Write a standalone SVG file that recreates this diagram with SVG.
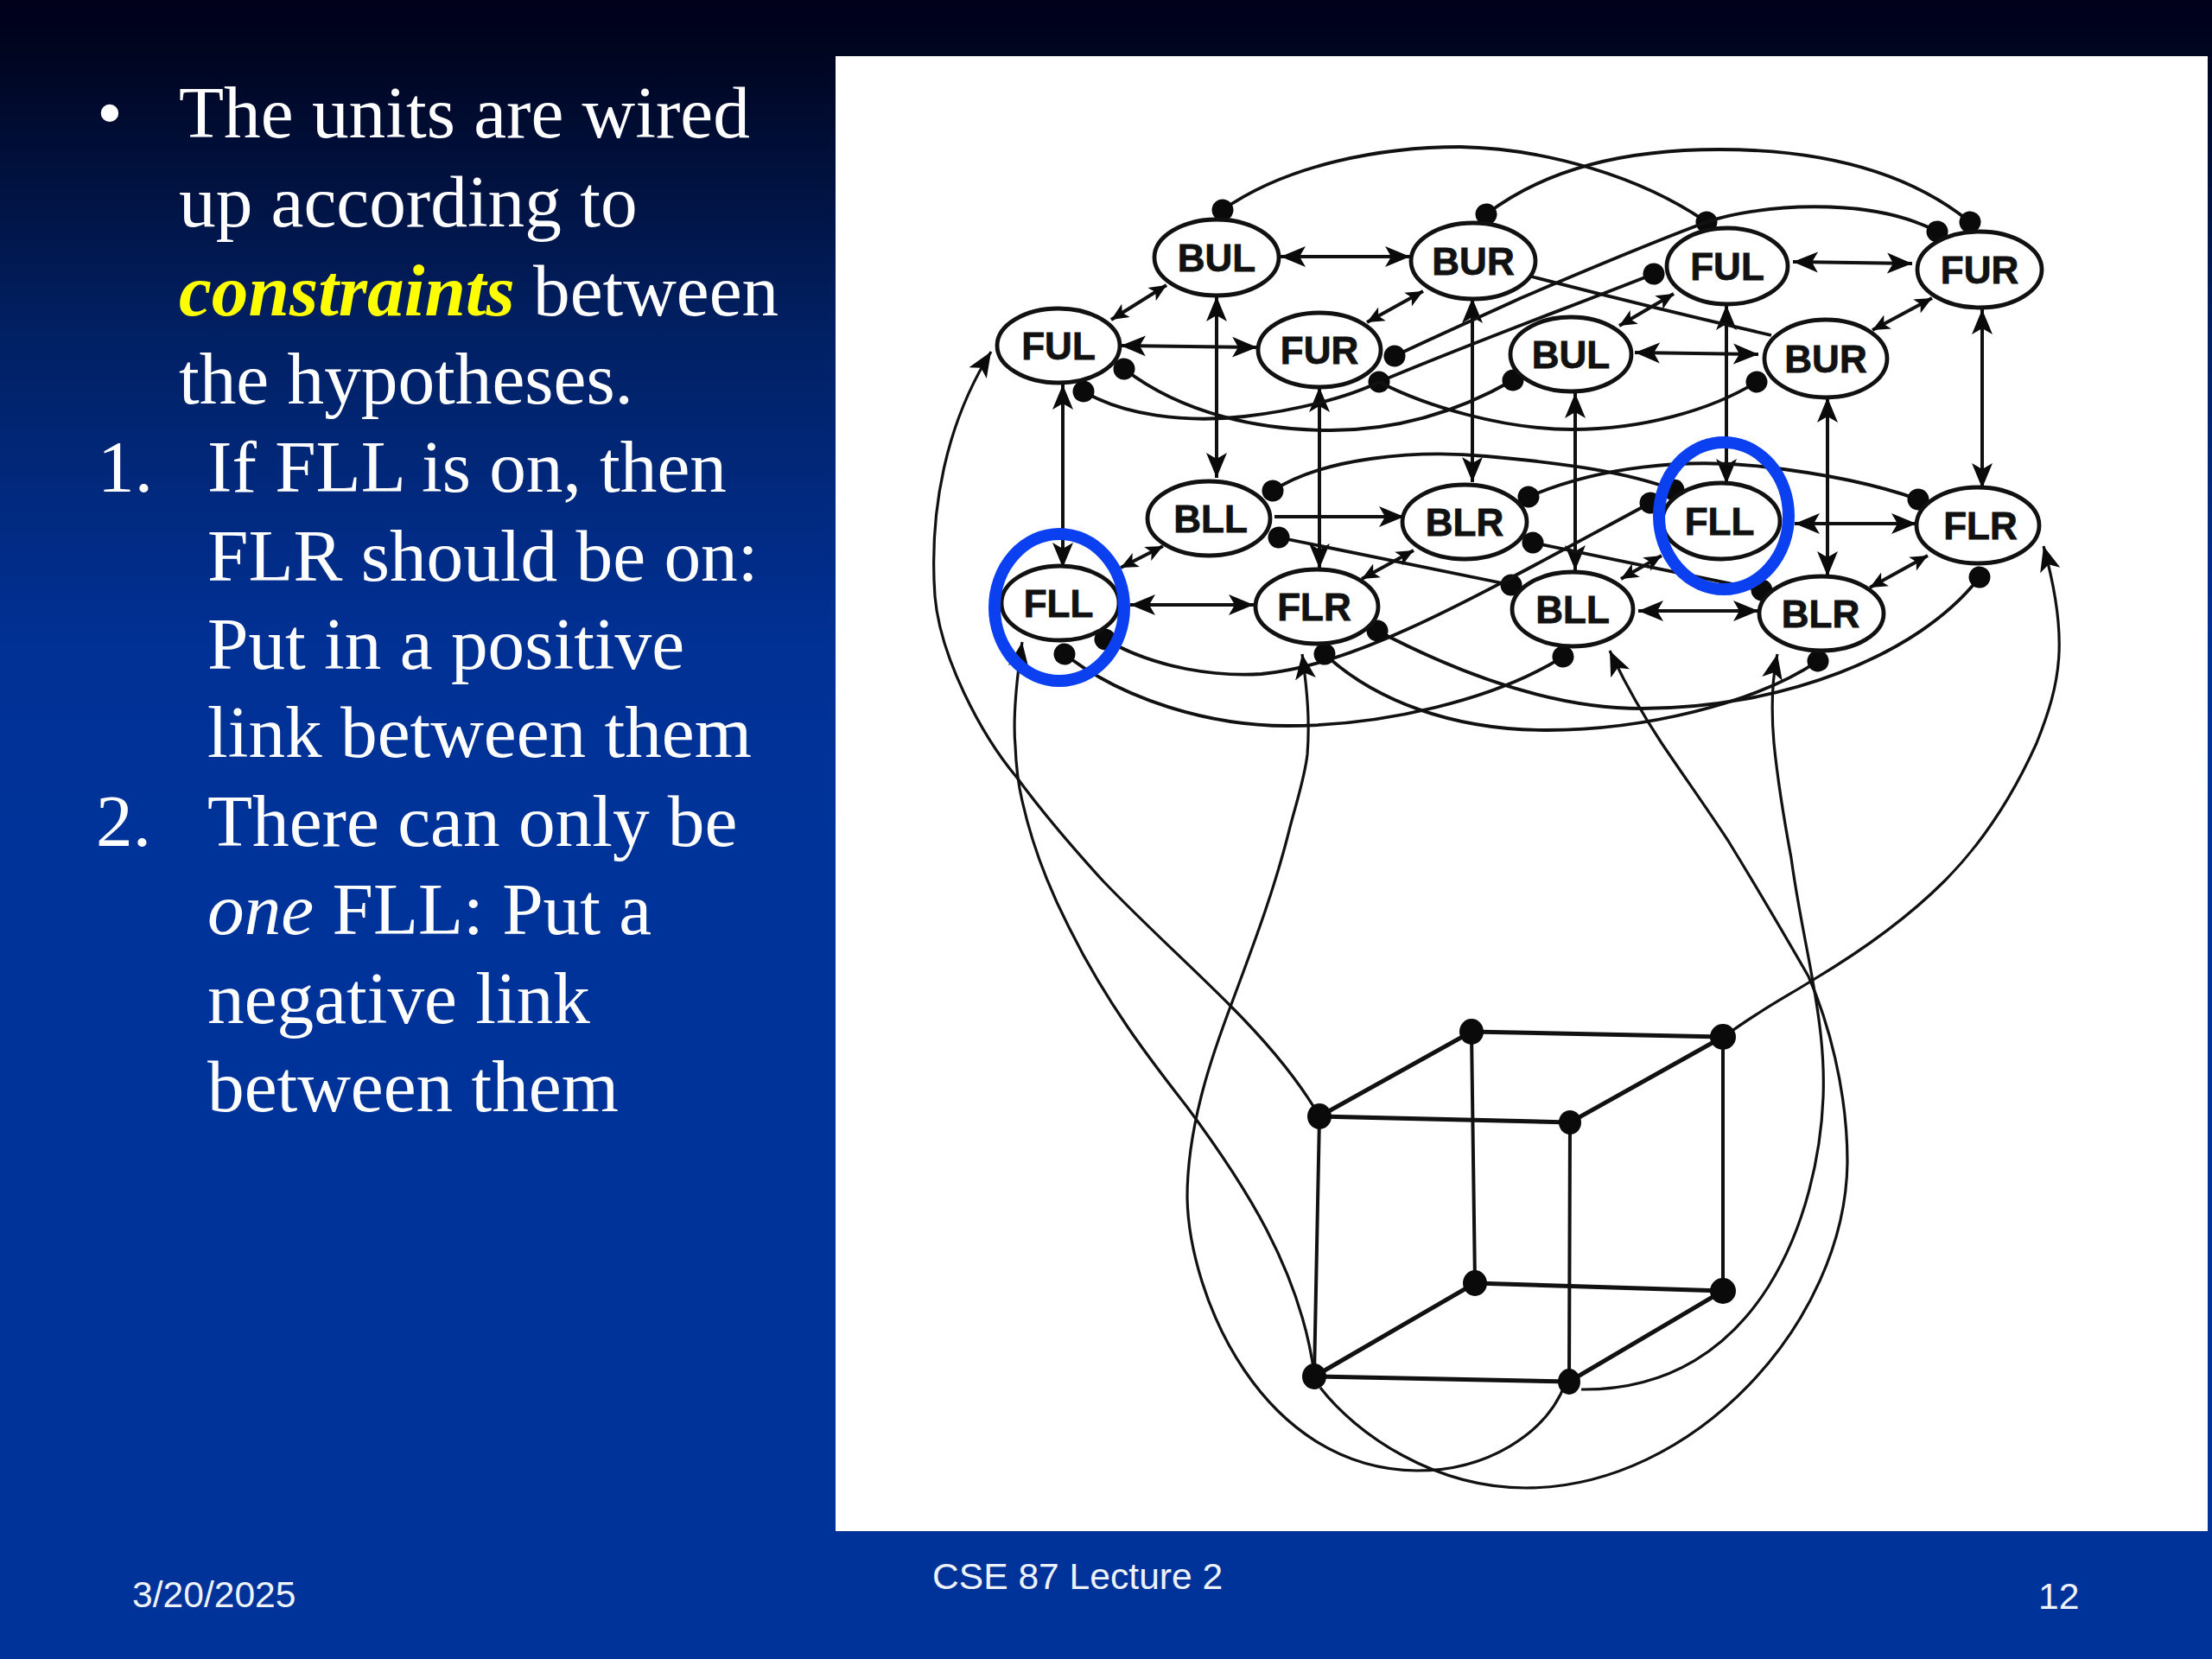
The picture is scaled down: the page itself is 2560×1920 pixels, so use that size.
<svg xmlns="http://www.w3.org/2000/svg" width="2560" height="1920" viewBox="0 0 2560 1920">
<style>
.t{font-family:"Liberation Serif","Times New Roman",serif;font-size:85.3px;fill:#fff}
.f{font-family:"Liberation Sans",Arial,sans-serif;font-size:42.6px;fill:#eef2fa}
.n ellipse{fill:#fff;stroke:#111;stroke-width:4.8}
.n text{font-family:"Liberation Sans",Arial,sans-serif;font-weight:700;font-size:44px;fill:#111;text-anchor:middle;stroke:#111;stroke-width:.8}
.c path{fill:none;stroke:#111;stroke-width:3.8}
.l path{fill:none;stroke:#111;stroke-width:3.2}
.e path{fill:none;stroke:#111;stroke-width:4}
.ring{fill:none;stroke:#0b40f0;stroke-width:14}
.d{fill:#0a0a0a}
.cube path{fill:none;stroke:#111;stroke-width:5}
.cube path.v{stroke-width:4}
</style>
<defs>
<linearGradient id="bg" x1="0" y1="0" x2="0" y2="1">
<stop offset="0" stop-color="#00001a"/>
<stop offset=".03" stop-color="#000520"/>
<stop offset=".2" stop-color="#012063"/>
<stop offset=".38" stop-color="#013093"/>
<stop offset=".5" stop-color="#003399"/>
<stop offset="1" stop-color="#003399"/>
</linearGradient>
<marker id="a" markerUnits="userSpaceOnUse" markerWidth="32" markerHeight="28" refX="29" refY="14" orient="auto-start-reverse">
<path d="M0,2 L29,14 L0,26 L7,14Z" fill="#0a0a0a"/>
</marker>
<marker id="s" markerUnits="userSpaceOnUse" markerWidth="22" markerHeight="22" refX="20" refY="11" orient="auto-start-reverse">
<path d="M0,2 L20,11 L0,20 L5,11Z" fill="#0a0a0a"/>
</marker>
<marker id="o" markerUnits="userSpaceOnUse" markerWidth="28" markerHeight="28" refX="14" refY="14" orient="auto-start-reverse">
<circle cx="14" cy="14" r="12.5" fill="#0a0a0a"/>
</marker>
</defs>
<rect width="2560" height="1920" fill="url(#bg)"/>
<rect x="967" y="65" width="1588" height="1707" fill="#fff"/>
<g id="connectors">
<g class="e">
<path marker-start="url(#a)" marker-end="url(#a)" d="M1482,297H1632"/>
<path marker-start="url(#a)" marker-end="url(#a)" d="M1297,400L1455,402"/>
<path marker-start="url(#a)" marker-end="url(#a)" d="M2075,303L2213,305"/>
<path marker-start="url(#a)" marker-end="url(#a)" d="M1892,408L2035,410"/>
<path marker-start="url(#a)" marker-end="url(#a)" d="M1308,700H1451"/>
<path marker-end="url(#a)" d="M1475,598H1625"/>
<path marker-start="url(#a)" marker-end="url(#a)" d="M2077,606H2218"/>
<path marker-start="url(#a)" marker-end="url(#a)" d="M1896,707H2035"/>
<path marker-start="url(#s)" marker-end="url(#s)" d="M1286,370L1350,330"/>
<path marker-start="url(#s)" marker-end="url(#s)" d="M1582,373L1647,337"/>
<path marker-start="url(#s)" marker-end="url(#s)" d="M1874,377L1937,340"/>
<path marker-start="url(#s)" marker-end="url(#s)" d="M2167,382L2236,345"/>
<path marker-start="url(#s)" marker-end="url(#s)" d="M1297,657L1346,632"/>
<path marker-start="url(#s)" marker-end="url(#s)" d="M1576,670L1636,637"/>
<path marker-start="url(#s)" marker-end="url(#s)" d="M1876,670L1923,643"/>
<path marker-start="url(#s)" marker-end="url(#s)" d="M2164,680L2231,643"/>
<path marker-start="url(#a)" marker-end="url(#a)" d="M1230,445V657"/>
<path marker-start="url(#a)" marker-end="url(#a)" d="M1408,343V553"/>
<path marker-start="url(#a)" marker-end="url(#a)" d="M1527,448V658"/>
<path marker-start="url(#a)" marker-end="url(#a)" d="M1704,345V558"/>
<path marker-start="url(#a)" marker-end="url(#a)" d="M1823,455V660"/>
<path marker-start="url(#a)" marker-end="url(#a)" d="M1998,353V560"/>
<path marker-start="url(#a)" marker-end="url(#a)" d="M2115,460V667"/>
<path marker-start="url(#a)" marker-end="url(#a)" d="M2294,358V565"/>
</g>
<g class="c">
<path marker-start="url(#o)" marker-end="url(#o)" d="M1415,243C1490,190 1600,170 1690,170C1790,172 1900,205 1975,257"/>
<path marker-start="url(#o)" marker-end="url(#o)" d="M1720,248C1790,195 1880,173 1990,173C2110,173 2210,200 2280,257"/>
<path marker-end="url(#o)" d="M1975,257C2030,238 2160,225 2242,268"/>
<path marker-end="url(#o)" d="M1975,257C1900,285 1830,315 1760,345C1710,368 1660,390 1614,412"/>
<path marker-start="url(#o)" marker-end="url(#o)" d="M1914,317C1810,358 1700,398 1596,442"/>
<path marker-start="url(#o)" d="M1254,453C1300,480 1370,490 1440,482C1500,475 1560,460 1596,442"/>
<path marker-start="url(#o)" marker-end="url(#o)" d="M1301,427C1370,480 1460,498 1540,498C1620,498 1690,475 1751,440"/>
<path marker-end="url(#o)" d="M1596,442C1650,470 1740,497 1820,497C1900,497 1980,475 2033,442"/>
<path d="M1772,320C1830,335 1950,365 2050,388"/>
<path marker-start="url(#o)" marker-end="url(#o)" d="M1473,568C1530,530 1640,520 1720,528C1800,535 1880,545 1937,567"/>
<path marker-start="url(#o)" marker-end="url(#o)" d="M1769,575C1850,540 1950,530 2040,540C2110,548 2170,560 2220,578"/>
<path marker-start="url(#o)" marker-end="url(#o)" d="M1480,622L1749,677"/>
<path marker-start="url(#o)" marker-end="url(#o)" d="M1774,628L2039,683"/>
<path marker-start="url(#o)" marker-end="url(#o)" d="M1279,740C1340,775 1410,783 1460,780C1570,770 1700,695 1910,582"/>
<path marker-start="url(#o)" marker-end="url(#o)" d="M1594,730C1680,775 1790,820 1900,820C2060,820 2220,760 2291,668"/>
<path marker-start="url(#o)" marker-end="url(#o)" d="M1232,757C1300,810 1400,840 1490,840C1600,840 1730,810 1809,760"/>
<path marker-start="url(#o)" marker-end="url(#o)" d="M1533,757C1590,810 1680,845 1790,845C1900,845 2030,815 2104,765"/>
</g>
<g class="l">
<path marker-start="url(#a)" d="M1147,407C1095,490 1075,590 1082,690C1088,760 1135,850 1177,900C1210,945 1245,985 1277,1020C1325,1070 1375,1115 1423,1163C1460,1200 1500,1245 1527,1292"/>
<path marker-start="url(#a)" d="M1183,743C1176,790 1172,830 1175,863C1176,890 1179,910 1183,927C1195,980 1215,1030 1237,1073C1280,1160 1330,1225 1373,1280C1440,1370 1505,1470 1521,1590"/>
<path marker-start="url(#a)" d="M1507,757C1513,800 1516,835 1513,873C1510,900 1500,930 1493,957C1475,1030 1450,1095 1427,1157C1405,1215 1374,1300 1374,1386C1376,1500 1460,1700 1640,1702C1720,1702 1790,1660 1812,1600"/>
<path marker-start="url(#a)" d="M1863,753C1880,790 1900,825 1923,860C1950,900 1975,935 2000,973C2035,1030 2070,1090 2093,1130C2115,1180 2138,1260 2138,1345C2136,1530 1960,1722 1766,1722C1660,1722 1570,1660 1528,1606"/>
<path marker-start="url(#a)" d="M2057,757C2050,790 2050,825 2053,860C2058,910 2065,950 2073,993C2080,1045 2090,1090 2097,1130C2105,1175 2112,1220 2110,1270C2105,1400 2040,1610 1830,1608"/>
<path marker-start="url(#a)" d="M2365,632C2395,740 2385,790 2357,860C2330,920 2295,975 2250,1020C2205,1065 2155,1100 2100,1133C2065,1155 2035,1170 1995,1200"/>
</g>
</g>
<g id="cube" class="cube">
<path d="M1527,1292L1703,1194L1994,1200L1817,1299ZM1521,1593L1707,1485L1994,1494L1816,1599Z"/>
<path class="v" d="M1527,1292L1521,1593M1703,1194L1707,1485M1994,1200V1494M1817,1299L1816,1599"/>
<ellipse class="d" cx="1703" cy="1194" rx="14" ry="15"/>
<ellipse class="d" cx="1994" cy="1200" rx="15" ry="15"/>
<ellipse class="d" cx="1527" cy="1292" rx="14" ry="15"/>
<ellipse class="d" cx="1817" cy="1299" rx="13" ry="14"/>
<ellipse class="d" cx="1707" cy="1485" rx="14" ry="15"/>
<ellipse class="d" cx="1994" cy="1494" rx="15" ry="15"/>
<ellipse class="d" cx="1521" cy="1593" rx="14" ry="15"/>
<ellipse class="d" cx="1816" cy="1599" rx="13" ry="15"/>
</g>
<g id="n-bul1" class="n"><ellipse cx="1408" cy="298" rx="72" ry="44"/><text x="1408" y="314">BUL</text></g>
<g id="n-bur1" class="n"><ellipse cx="1705" cy="302" rx="72" ry="44"/><text x="1705" y="318">BUR</text></g>
<g id="n-ful1" class="n"><ellipse cx="1225" cy="400" rx="71" ry="43"/><text x="1225" y="416">FUL</text></g>
<g id="n-fur1" class="n"><ellipse cx="1527" cy="405" rx="71" ry="43"/><text x="1527" y="421">FUR</text></g>
<g id="n-ful2" class="n"><ellipse cx="1999" cy="308" rx="70" ry="44"/><text x="1999" y="324">FUL</text></g>
<g id="n-fur2" class="n"><ellipse cx="2291" cy="312" rx="72" ry="44"/><text x="2291" y="328">FUR</text></g>
<g id="n-bul2" class="n"><ellipse cx="1818" cy="410" rx="70" ry="43"/><text x="1818" y="426">BUL</text></g>
<g id="n-bur2" class="n"><ellipse cx="2113" cy="415" rx="71" ry="45"/><text x="2113" y="431">BUR</text></g>
<g id="n-bll1" class="n"><ellipse cx="1399" cy="600" rx="71" ry="43"/><text x="1401" y="616">BLL</text></g>
<g id="n-blr1" class="n"><ellipse cx="1695" cy="604" rx="72" ry="43"/><text x="1695" y="620">BLR</text></g>
<g id="n-fll1" class="n"><ellipse cx="1227" cy="698" rx="68" ry="43"/><text x="1225" y="714">FLL</text></g>
<g id="n-flr1" class="n"><ellipse cx="1524" cy="702" rx="71" ry="43"/><text x="1521" y="718">FLR</text></g>
<g id="n-fll2" class="n"><ellipse cx="1992" cy="603" rx="68" ry="44"/><text x="1990" y="619">FLL</text></g>
<g id="n-flr2" class="n"><ellipse cx="2289" cy="608" rx="71" ry="44"/><text x="2292" y="624">FLR</text></g>
<g id="n-bll2" class="n"><ellipse cx="1820" cy="705" rx="70" ry="43"/><text x="1820" y="721">BLL</text></g>
<g id="n-blr2" class="n"><ellipse cx="2108" cy="710" rx="72" ry="43"/><text x="2107" y="726">BLR</text></g>
<ellipse id="ring-left" class="ring" cx="1226" cy="703" rx="75" ry="85"/>
<ellipse id="ring-right" class="ring" cx="1995" cy="597" rx="75" ry="85"/>
<g id="slide-text">
<text class="t" x="112" y="159">•</text>
<text class="t" x="207" y="159">The units are wired</text>
<text class="t" x="207" y="262">up according to</text>
<text class="t" x="207" y="365"><tspan font-style="italic" font-weight="700" fill="#ffff00">constraints</tspan> between</text>
<text class="t" x="207" y="467">the hypotheses.</text>
<text class="t" x="113" y="569">1.</text>
<text class="t" x="240" y="569">If FLL is on, then</text>
<text class="t" x="240" y="672">FLR should be on:</text>
<text class="t" x="240" y="774">Put in a positive</text>
<text class="t" x="240" y="876">link between them</text>
<text class="t" x="111" y="979">2.</text>
<text class="t" x="240" y="979">There can only be</text>
<text class="t" x="240" y="1081"><tspan font-style="italic">one</tspan> FLL: Put a</text>
<text class="t" x="240" y="1184">negative link</text>
<text class="t" x="240" y="1286">between them</text>
<text class="f" x="153" y="1860">3/20/2025</text>
<text class="f" x="1079" y="1839">CSE 87 Lecture 2</text>
<text class="f" x="2359" y="1862">12</text>
</g>
</svg>
